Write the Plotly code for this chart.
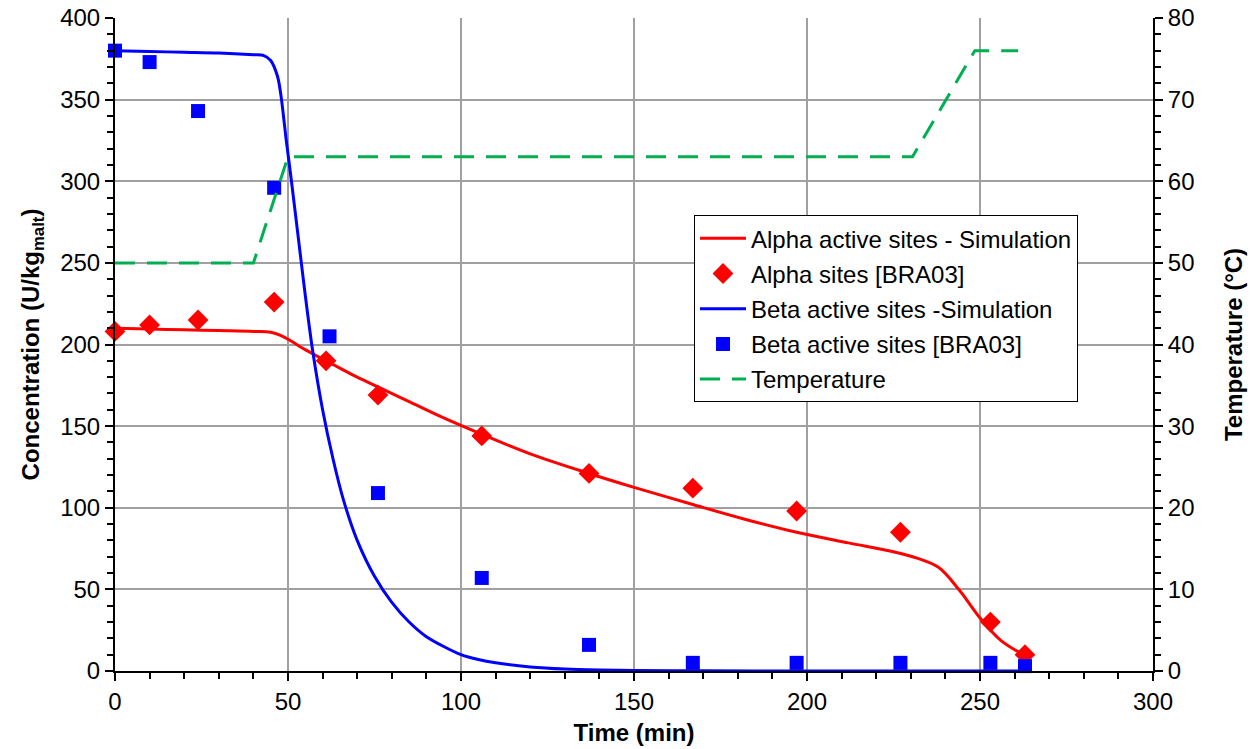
import plotly.graph_objects as go

# Measured data
alpha_t = [0, 10, 24, 46, 61, 76, 106, 137, 167, 197, 227, 253, 263]
alpha_c = [208, 212, 215, 226, 190, 169, 144, 121, 112, 98, 85, 30, 10]
beta_t = [0, 10, 24, 46, 62, 76, 106, 137, 167, 197, 227, 253, 263]
beta_c = [380, 373, 343, 296, 205, 109, 57, 16, 5, 5, 5, 5, 3]

# Simulation curves
alpha_sim_t = [0, 10, 20, 30, 40, 45, 48, 51, 54, 57, 61, 65, 70, 76, 85, 95, 106, 120, 137, 150, 167, 182, 197, 212, 225, 232, 238, 244, 250, 256, 263]
alpha_sim_c = [210, 209.5, 209, 208.5, 208, 207.5, 205.5, 202, 198, 194.5, 190, 185.5, 180, 174, 165, 155, 145, 133, 121, 112.5, 102, 93, 85, 78.5, 73, 69, 63.5, 49.6, 32.5, 18.8, 9.5]
beta_sim_t = [0, 10, 20, 30, 40, 43, 45, 47, 48, 49.5, 51, 53, 55, 57, 60, 63, 66, 70, 75, 80, 85, 90, 95, 100, 105, 110, 120, 130, 140, 150, 170, 200, 230, 263]
beta_sim_c = [380, 379.5, 379, 378.5, 377.5, 377, 374, 364, 352, 325, 300, 265, 230, 198, 160, 130, 105, 80, 58, 42, 30, 21, 15, 10, 7, 5, 2.5, 1.2, 0.6, 0.3, 0.1, 0, 0, 0]

# Temperature profile
temp_t = [0, 40, 50, 230.5, 248.5, 261]
temp_c = [50, 50, 63, 63, 76, 76]

FONT = "Liberation Sans, Arial, sans-serif"
FS = 24

fig = go.Figure()
fig.add_trace(go.Scatter(x=alpha_sim_t, y=alpha_sim_c, mode="lines",
                         line=dict(color="#FF0000", width=3, shape="spline", smoothing=1.0),
                         name="Alpha active sites - Simulation", legendgroup="a"))
fig.add_trace(go.Scatter(x=alpha_t, y=alpha_c, mode="markers",
                         marker=dict(symbol="diamond", color="#FF0000", size=16),
                         name="Alpha sites [BRA03]", cliponaxis=False, legendgroup="b"))
fig.add_trace(go.Scatter(x=beta_sim_t, y=beta_sim_c, mode="lines",
                         line=dict(color="#0000FF", width=3, shape="spline", smoothing=0.8),
                         name="Beta active sites -Simulation", legendgroup="c"))
fig.add_trace(go.Scatter(x=beta_t, y=beta_c, mode="markers",
                         marker=dict(symbol="square", color="#0000FF", size=14),
                         name="Beta active sites [BRA03]", cliponaxis=False, legendgroup="d"))
fig.add_trace(go.Scatter(x=temp_t, y=temp_c, mode="lines", yaxis="y2",
                         line=dict(color="#00B050", width=3, dash="20px,12px"),
                         name="Temperature", legendgroup="e"))

axis_common = dict(showline=True, linecolor="black", linewidth=2,
                   ticks="outside", ticklen=8, tickwidth=1.5, tickcolor="black",
                   tickfont=dict(family=FONT, size=FS, color="black"),
                   zeroline=False, automargin=False)

fig.update_layout(
    width=1258, height=749,
    margin=dict(l=115, r=105, t=18, b=78),
    paper_bgcolor="white", plot_bgcolor="white",
    font=dict(family=FONT, color="black"),
    xaxis=dict(range=[0, 300], dtick=50, showgrid=True, gridcolor="#A0A0A0", gridwidth=1.5,
               minor=dict(dtick=10, ticks="outside", ticklen=6, tickcolor="black", showgrid=False),
               title=dict(text="<b>Time (min)</b>", font=dict(family=FONT, size=FS), standoff=10),
               **axis_common),
    yaxis=dict(range=[0, 400], dtick=50, showgrid=True, gridcolor="#A0A0A0", gridwidth=1.5,
               minor=dict(dtick=10, ticks="outside", ticklen=6, tickcolor="black", showgrid=False),
               title=dict(text="<b>Concentration (U/kg<sub>malt</sub>)</b>", font=dict(family=FONT, size=FS), standoff=14),
               **axis_common),
    yaxis2=dict(range=[0, 80], dtick=10, overlaying="y", side="right", showgrid=False,
                minor=dict(dtick=2, ticks="outside", ticklen=6, tickcolor="black"),
                title=dict(text="<b>Temperature (°C)</b>", font=dict(family=FONT, size=FS), standoff=32),
                **axis_common),
    legend=dict(x=0.5578, y=0.698, xanchor="left", yanchor="top",
                bgcolor="white", bordercolor="black", borderwidth=1,
                font=dict(family=FONT, size=FS, color="black"),
                traceorder="grouped", tracegroupgap=1, itemwidth=46),
    showlegend=True,
)

fig.write_html("out.html")
